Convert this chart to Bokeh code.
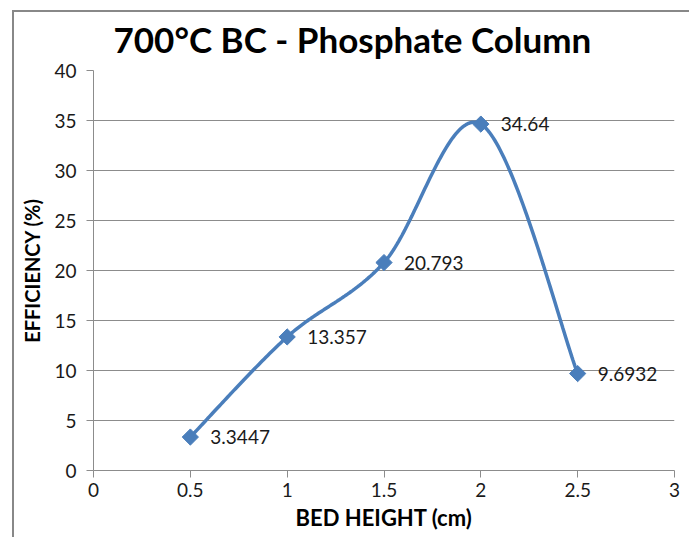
import numpy as np
from bokeh.plotting import figure
from bokeh.models import ColumnDataSource, FixedTicker, Range1d
from bokeh.core.properties import value
from bokeh.embed import file_html
from bokeh.resources import INLINE

# Bed height vs. phosphate removal efficiency
bed_height = [0.5, 1.0, 1.5, 2.0, 2.5]
efficiency = [3.3447, 13.357, 20.793, 34.64, 9.6932]
value_labels = ["3.3447", "13.357", "20.793", "34.64", "9.6932"]
x_ticks = [0, 0.5, 1, 1.5, 2, 2.5, 3]
y_ticks = [0, 5, 10, 15, 20, 25, 30, 35, 40]
title_text = "700°C BC - Phosphate Column"

BLUE = "#4a7ebb"
GRID = "#8c8c8c"
FONT = "Lato"


def smooth_curve(xs, ys, n=60):
    """Cubic Bezier smoothing through every point (tangent = neighbour difference / 6)."""
    pts = np.column_stack([xs, ys]).astype(float)
    ext = np.vstack([pts[0], pts, pts[-1]])
    out = []
    t = np.linspace(0, 1, n)[:, None]
    for i in range(len(pts) - 1):
        p0, p1 = pts[i], pts[i + 1]
        c1 = p0 + (ext[i + 2] - ext[i]) / 6.0
        c2 = p1 - (ext[i + 3] - ext[i + 1]) / 6.0
        seg = ((1 - t) ** 3) * p0 + 3 * ((1 - t) ** 2) * t * c1 + 3 * (1 - t) * t ** 2 * c2 + t ** 3 * p1
        out.append(seg if i == 0 else seg[1:])
    seg = np.vstack(out)
    return seg[:, 0], seg[:, 1]


cx, cy = smooth_curve(bed_height, efficiency)

p = figure(width=689, height=537, output_backend="svg", toolbar_location=None,
           x_range=Range1d(0, 3), y_range=Range1d(0, 40),
           min_border_left=93, min_border_right=15, min_border_top=70, min_border_bottom=67)

# chart-area frame: grey rules along the left and top edges, painted behind the canvas
p.border_fill_color = None
p.styles = {"background": "linear-gradient(#888888, #888888) 12px 10px / 2px 527px no-repeat, "
                          "linear-gradient(#888888, #888888) 12px 10px / 677px 2px no-repeat, "
                          "#ffffff"}

p.title.text = title_text
p.title.align = "left"
p.title.offset = 20
p.title.standoff = 22
p.title.text_font = FONT
p.title.text_font_size = "35px"
p.title.text_font_style = "bold"
p.title.text_color = "#000000"

p.outline_line_color = None
p.background_fill_color = "white"

p.xgrid.grid_line_color = None
p.ygrid.grid_line_color = GRID
p.ygrid.grid_line_width = 1

for ax in (p.xaxis, p.yaxis):
    ax.axis_line_color = GRID
    ax.major_tick_line_color = GRID
    ax.major_tick_out = 7
    ax.major_tick_in = 0
    ax.minor_tick_line_color = None
    ax.major_label_text_font = FONT
    ax.major_label_text_font_size = "19px"
    ax.major_label_text_color = "#1a1a1a"
    ax.axis_label_text_font = FONT
    ax.axis_label_text_font_style = "bold"
    ax.axis_label_text_color = "#000000"

p.xaxis.axis_label_text_font_size = "22px"
p.yaxis.axis_label_text_font_size = "20px"
p.xaxis.ticker = FixedTicker(ticks=x_ticks)
p.yaxis.ticker = FixedTicker(ticks=y_ticks)
p.xaxis.axis_label = "BED HEIGHT (cm)"
p.yaxis.axis_label = "EFFICIENCY (%)"
p.xaxis.major_label_standoff = 5
p.yaxis.major_label_standoff = 10
p.xaxis.axis_label_standoff = 4
p.yaxis.axis_label_standoff = 7

p.line(cx, cy, line_color=BLUE, line_width=3.5)

src = ColumnDataSource(dict(x=bed_height, y=efficiency, lab=value_labels))
p.scatter("x", "y", source=src, marker="square", angle=np.pi / 4, size=11.5,
          fill_color=BLUE, line_color=BLUE)
p.text("x", "y", text="lab", source=src, x_offset=20, text_baseline="middle",
       text_align="left", text_font_size="19px", text_color="#1a1a1a",
       text_font=value(FONT))

open("out.html", "w").write(file_html(p, INLINE))
